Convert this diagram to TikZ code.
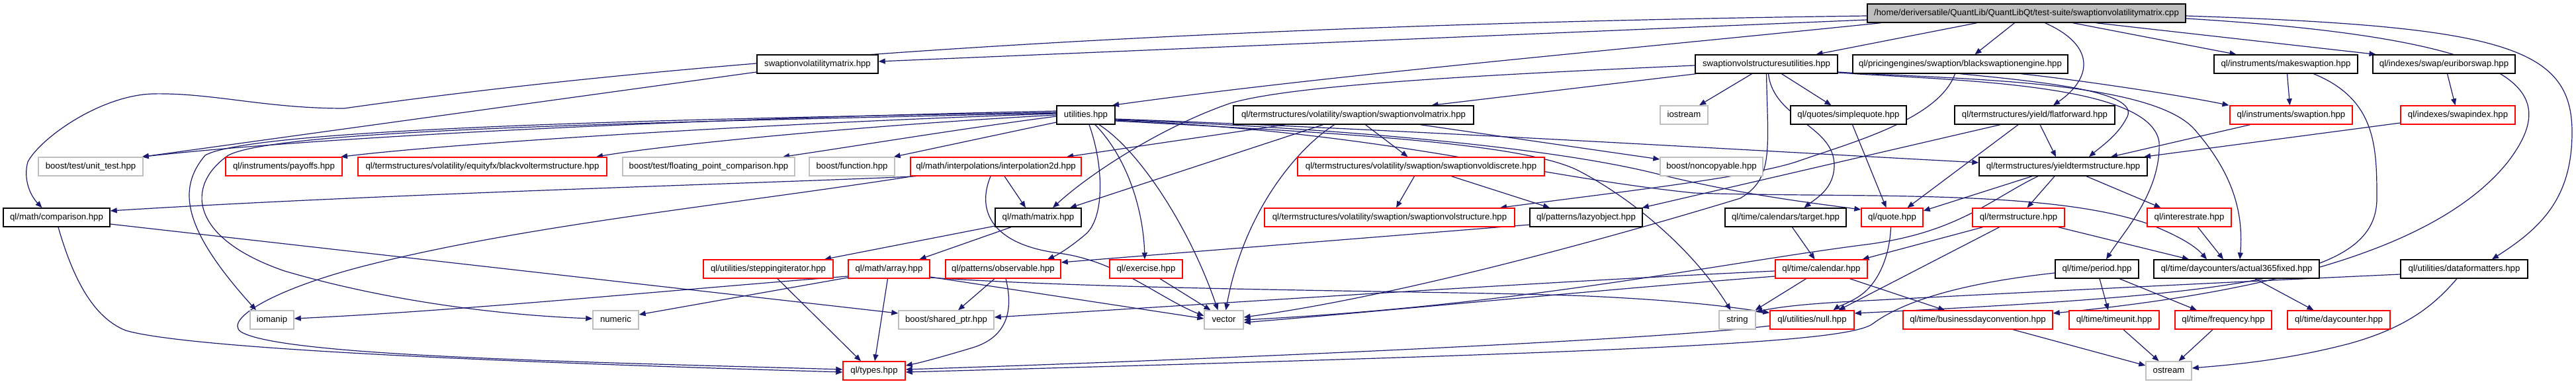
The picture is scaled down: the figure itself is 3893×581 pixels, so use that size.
\documentclass[tikz,border=0pt]{standalone}
\usepackage{fontspec}
\setmainfont{Liberation Sans}
\usetikzlibrary{arrows.meta,calc}
\definecolor{edgec}{HTML}{191970}
\definecolor{grayb}{HTML}{BFBFBF}
\definecolor{redb}{HTML}{FF0000}
\definecolor{rootf}{HTML}{BFBFBF}
\pgfdeclarelayer{bg}
\pgfsetlayers{bg,main}
\tikzset{
  nbase/.style={rectangle, minimum height=28pt, inner sep=0pt, line width=1.4pt, fill=white,
    font=\fontsize{13.2}{15.8}\selectfont, text height=9.6pt, text depth=2.9pt},
  bx/.style={nbase, draw=black},
  rx/.style={nbase, draw=redb},
  gx/.style={nbase, draw=grayb},
  rootx/.style={nbase, draw=black, fill=rootf},
  dep/.style={draw=edgec, line width=1.2pt, -{Triangle[length=10pt,width=8pt]}}
}
\begin{document}
\begin{tikzpicture}[x=1pt,y=-1pt]
\useasboundingbox (0,0) rectangle (3893,581);
\begin{pgfonlayer}{bg}\fill[white] (0,0) rectangle (3893,581);\end{pgfonlayer}
% row 0
\node[rootx, minimum width=481pt] (root) at (3062.5,20) {/home/deriversatile/QuantLib/QuantLibQt/test-suite/swaptionvolatilitymatrix.cpp};
% row 1
\node[bx, minimum width=183pt] (svm) at (1235.5,97) {swaptionvolatilitymatrix.hpp};
\node[bx, minimum width=215pt] (svsu) at (2669.5,97) {swaptionvolstructuresutilities.hpp};
\node[bx, minimum width=325pt] (bse) at (2962.5,97) {ql/pricingengines/swaption/blackswaptionengine.hpp};
\node[bx, minimum width=217pt] (mks) at (3454.5,97) {ql/instruments/makeswaption.hpp};
\node[bx, minimum width=215pt] (eur) at (3693.5,97) {ql/indexes/swap/euriborswap.hpp};
% row 2
\node[bx, minimum width=88pt] (util) at (1641,174) {utilities.hpp};
\node[bx, minimum width=363pt] (svmat) at (2045.5,174) {ql/termstructures/volatility/swaption/swaptionvolmatrix.hpp};
\node[gx, minimum width=72pt] (ios) at (2545,174) {iostream};
\node[bx, minimum width=175pt] (sq) at (2793.5,174) {ql/quotes/simplequote.hpp};
\node[bx, minimum width=242pt] (ff) at (3075,174) {ql/termstructures/yield/flatforward.hpp};
\node[rx, minimum width=185pt] (swpn) at (3462.5,174) {ql/instruments/swaption.hpp};
\node[rx, minimum width=173pt] (swi) at (3714.5,174) {ql/indexes/swapindex.hpp};
% row 3
\node[gx, minimum width=158pt] (ut) at (137,252) {boost/test/unit\_test.hpp};
\node[rx, minimum width=176pt] (pay) at (429,252) {ql/instruments/payoffs.hpp};
\node[rx, minimum width=376pt] (bvts) at (729,252) {ql/termstructures/volatility/equityfx/blackvoltermstructure.hpp};
\node[gx, minimum width=260pt] (fpc) at (1071,252) {boost/test/floating\_point\_comparison.hpp};
\node[gx, minimum width=129pt] (func) at (1287.5,252) {boost/function.hpp};
\node[rx, minimum width=258pt] (i2d) at (1505,252) {ql/math/interpolations/interpolation2d.hpp};
\node[rx, minimum width=373pt] (svd) at (2147.5,252) {ql/termstructures/volatility/swaption/swaptionvoldiscrete.hpp};
\node[gx, minimum width=155pt] (nc) at (2586.5,252) {boost/noncopyable.hpp};
\node[bx, minimum width=254pt] (yts) at (3118,252) {ql/termstructures/yieldtermstructure.hpp};
% row 4
\node[bx, minimum width=161pt] (cmp) at (85.5,329) {ql/math/comparison.hpp};
\node[bx, minimum width=130pt] (mat) at (1569,329) {ql/math/matrix.hpp};
\node[rx, minimum width=378pt] (svs) at (2100,329) {ql/termstructures/volatility/swaption/swaptionvolstructure.hpp};
\node[bx, minimum width=170pt] (lazy) at (2397,329) {ql/patterns/lazyobject.hpp};
\node[bx, minimum width=183pt] (tgt) at (2698.5,329) {ql/time/calendars/target.hpp};
\node[rx, minimum width=93pt] (quote) at (2859.5,329) {ql/quote.hpp};
\node[rx, minimum width=139pt] (ts) at (3050.5,329) {ql/termstructure.hpp};
\node[rx, minimum width=127pt] (ir) at (3308.5,329) {ql/interestrate.hpp};
% row 5
\node[rx, minimum width=196pt] (step) at (1161,407) {ql/utilities/steppingiterator.hpp};
\node[rx, minimum width=123pt] (arr) at (1343.5,407) {ql/math/array.hpp};
\node[rx, minimum width=174pt] (obs) at (1516,407) {ql/patterns/observable.hpp};
\node[rx, minimum width=110pt] (ex) at (1732,407) {ql/exercise.hpp};
\node[rx, minimum width=139pt] (cal) at (2752.5,407) {ql/time/calendar.hpp};
\node[bx, minimum width=126pt] (per) at (3169,407) {ql/time/period.hpp};
\node[bx, minimum width=250pt] (a365) at (3380,407) {ql/time/daycounters/actual365fixed.hpp};
\node[bx, minimum width=192pt] (df) at (3724,407) {ql/utilities/dataformatters.hpp};
% row 6
\node[gx, minimum width=66pt] (iom) at (411,484) {iomanip};
\node[gx, minimum width=69pt] (num) at (930.5,484) {numeric};
\node[gx, minimum width=144pt] (sp) at (1430,484) {boost/shared\_ptr.hpp};
\node[gx, minimum width=59pt] (vec) at (1849.5,484) {vector};
\node[gx, minimum width=55pt] (str) at (2625.5,484) {string};
\node[rx, minimum width=127pt] (null) at (2738.5,484) {ql/utilities/null.hpp};
\node[rx, minimum width=226pt] (bdc) at (2989,484) {ql/time/businessdayconvention.hpp};
\node[rx, minimum width=136pt] (tu) at (3195,484) {ql/time/timeunit.hpp};
\node[rx, minimum width=146pt] (freq) at (3360,484) {ql/time/frequency.hpp};
\node[rx, minimum width=155pt] (dc) at (3534.5,484) {ql/time/daycounter.hpp};
% row 7
\node[rx, minimum width=94pt] (types) at (1321,561) {ql/types.hpp};
\node[gx, minimum width=69pt] (ostr) at (3277.5,561) {ostream};

\begin{pgfonlayer}{bg}
% root
\draw[dep] ($(root.west)+(0,4)$) .. controls (1600,40) and (900,110) .. (520,164) .. controls (400,164) and (320,140) .. (230,142) .. controls (150,145) and (60,210) .. (42,245) .. controls (35,270) and (45,295) .. ($(cmp.north)+(-22,0)$);
\draw[dep] ($(root.west)+(0,10)$) -- ($(svm.east)+(0,-4)$);
\draw[dep] ($(root.south)+(-220,0)$) .. controls (2400,80) and (2000,115) .. ($(util.north)+(40,0)$);
\draw[dep] ($(root.south)+(-75,0)$) -- ($(svsu.north)+(75,0)$);
\draw[dep] ($(root.south)+(-18,0)$) -- ($(bse.north)+(22,0)$);
\draw[dep] ($(root.south)+(28,0)$) .. controls (3170,70) and (3160,120) .. ($(ff.north)+(28,0)$);
\draw[dep] ($(root.south)+(70,0)$) -- ($(mks.north)+(-75,0)$);
\draw[dep] ($(root.south)+(105,0)$) -- ($(eur.north)+(-103,0)$);
\draw[dep] ($(root.east)+(0,4)$) .. controls (3780,40) and (3887,70) .. (3887,200) .. controls (3887,300) and (3840,345) .. ($(df.north)+(42,0)$);
\draw[dep] ($(root.east)+(0,8)$) .. controls (3830,60) and (3870,140) .. (3790,245) .. controls (3690,370) and (3450,440) .. ($(bdc.east)+(0,-10)$);
% row 1 sources
\draw[dep] ($(mks.south)+(2,0)$) -- ($(swpn.north)+(-2,0)$);
\draw[dep] ($(mks.south)+(42,0)$) .. controls (3590,150) and (3592,220) .. (3592,300) .. controls (3592,420) and (3400,445) .. ($(null.east)+(0,-10)$);
\draw[dep] ($(eur.south)+(5,0)$) -- ($(swi.north)+(-4,0)$);
\draw[dep] ($(svm.west)+(0,12)$) -- ($(ut.north east)+(-2,0)$);
\draw[dep] ($(bse.south)+(92,0)$) .. controls (3150,122) and (3300,145) .. ($(swpn.north)+(-94,0)$);
\draw[dep] ($(bse.south)+(0,0)$) .. controls (3100,125) and (3240,140) .. (3213,180) .. controls (3200,205) and (3175,222) .. ($(yts.north)+(39,0)$);
\draw[dep] ($(bse.south)+(-8,0)$) .. controls (2930,180) and (2800,215) .. (2720,243) .. controls (2650,268) and (2450,290) .. ($(svs.north)+(167,0)$);
\draw[dep] ($(svsu.south)+(-22,0)$) -- ($(ios.north)+(23,0)$);
\draw[dep] ($(svsu.south)+(23,0)$) -- ($(sq.north)+(-26,0)$);
\draw[dep] ($(svsu.south)+(3,0)$) .. controls (2680,180) and (2772,190) .. (2772,250) .. controls (2772,285) and (2745,300) .. ($(tgt.north)+(28,0)$);
\draw[dep] ($(svsu.south)+(0,0)$) .. controls (2672,230) and (2680,270) .. (2630,300) .. controls (2400,370) and (2100,450) .. ($(vec.east)+(0,-4)$);
\draw[dep] ($(svsu.south west)+(2,0)$) -- ($(svmat.north)+(118,0)$);
\draw[dep] ($(svsu.west)+(0,2)$) .. controls (2200,115) and (1950,130) .. (1860,156) .. controls (1760,190) and (1650,260) .. ($(mat.north)+(22,0)$);
\draw[dep] ($(svsu.east)+(0,12)$) .. controls (2950,120) and (3260,120) .. (3320,200) .. controls (3380,270) and (3390,330) .. ($(a365.north)+(5,0)$);
\draw[dep] ($(svsu.east)+(0,13)$) .. controls (2950,122) and (3250,125) .. (3263,215) .. controls (3266,290) and (3210,350) .. ($(per.north)+(14,0)$);
% row 2 sources
\draw[dep] ($(util.west)+(0,-6)$) .. controls (1100,178) and (500,205) .. ($(ut.north east)+(-2,0)$);
\draw[dep] ($(util.west)+(0,-2)$) .. controls (1200,185) and (700,215) .. ($(pay.north)+(86,0)$);
\draw[dep] ($(util.west)+(0,0)$) .. controls (1300,190) and (1000,220) .. ($(bvts.north)+(172,0)$);
\draw[dep] ($(util.west)+(0,2)$) .. controls (1450,195) and (1300,220) .. ($(fpc.north)+(112,0)$);
\draw[dep] ($(util.west)+(0,11)$) -- ($(func.north east)+(-2,0)$);
\draw[dep] ($(util.west)+(0,-4)$) .. controls (1000,180) and (380,195) .. (310,235) .. controls (268,285) and (275,345) .. ($(iom.north)+(-24,0)$);
\draw[dep] ($(util.west)+(0,-3)$) .. controls (1000,185) and (420,195) .. (345,235) .. controls (280,280) and (285,360) .. (430,410) .. controls (600,460) and (780,478) .. ($(num.west)+(0,-2)$);
\draw[dep] ($(util.south)+(5,0)$) .. controls (1668,250) and (1670,330) .. (1640,355) .. controls (1620,372) and (1600,385) .. ($(obs.north)+(67,0)$);
\draw[dep] ($(util.south)+(14,0)$) .. controls (1705,240) and (1728,320) .. ($(ex.north)+(-2,0)$);
\draw[dep] ($(util.south)+(20,0)$) .. controls (1725,230) and (1800,350) .. ($(vec.north)+(-9,0)$);
\draw[dep] ($(util.east)+(0,6)$) .. controls (2100,195) and (2600,225) .. ($(yts.west)+(0,-6)$);
\draw[dep] ($(util.east)+(0,7)$) .. controls (2050,195) and (2350,225) .. (2500,262) .. controls (2620,292) and (2720,305) .. ($(quote.west)+(0,-12)$);
\draw[dep] ($(util.east)+(0,8)$) .. controls (2100,200) and (2300,265) .. (2560,292) .. controls (2800,300) and (3100,285) .. (3250,340) .. controls (3300,360) and (3320,375) .. ($(a365.north)+(-45,0)$);
\draw[dep] ($(util.east)+(0,9)$) .. controls (2000,200) and (2300,215) .. (2385,258) .. controls (2470,302) and (2560,380) .. ($(str.north)+(-10,0)$);
\draw[dep] ($(svmat.south)+(-103,0)$) -- ($(i2d.north)+(107,0)$);
\draw[dep] ($(svmat.south)+(-46,0)$) -- ($(mat.north)+(48,0)$);
\draw[dep] ($(svmat.south)+(-29,0)$) .. controls (1960,225) and (1880,320) .. ($(vec.north)+(3,0)$);
\draw[dep] ($(svmat.south)+(18,0)$) -- ($(svd.north)+(-20,0)$);
\draw[dep] ($(svmat.south)+(101,0)$) -- ($(nc.west)+(0,-11)$);
\draw[dep] ($(sq.south)+(6,0)$) -- ($(quote.north)+(-9,0)$);
\draw[dep] ($(ff.south)+(8,0)$) -- ($(yts.north)+(-11,0)$);
\draw[dep] ($(ff.south)+(-25,0)$) -- ($(quote.north)+(23,0)$);
\draw[dep] ($(ff.south)+(-52,0)$) -- ($(lazy.north east)+(-1,0)$);
\draw[dep] ($(swi.west)+(0,12)$) -- ($(yts.north)+(122,0)$);
\draw[dep] ($(swpn.south)+(-62,0)$) -- ($(yts.north)+(72,0)$);
% row 3 sources
\draw[dep] ($(svd.south)+(-10,0)$) -- ($(svs.north)+(10,0)$);
\draw[dep] ($(svd.south)+(46,0)$) -- ($(lazy.north)+(-55,0)$);
\draw[dep] ($(i2d.south)+(13,0)$) -- ($(mat.north)+(-19,0)$);
\draw[dep] ($(i2d.south)+(-8,0)$) .. controls (1475,320) and (1500,370) .. (1600,383) .. controls (1690,395) and (1750,450) .. ($(vec.west)+(0,-6)$);
\draw[dep] ($(i2d.south west)+(9,0)$) .. controls (1200,276) and (600,292) .. ($(cmp.east)+(0,-10)$);
\draw[dep] ($(i2d.south west)+(4,0)$) .. controls (1100,310) and (800,340) .. (560,400) .. controls (400,440) and (330,490) .. (370,505) .. controls (450,540) and (900,548) .. ($(types.west)+(0,-2)$);
\draw[dep] ($(yts.south)+(-13,0)$) -- ($(ts.north)+(13,0)$);
\draw[dep] ($(yts.south)+(35,0)$) -- ($(ir.north)+(-43,0)$);
\draw[dep] ($(yts.south)+(-47,0)$) -- ($(quote.east)+(0,-10)$);
\draw[dep] ($(yts.south)+(-38,0)$) .. controls (3010,300) and (2960,352) .. (2820,370) .. controls (2600,398) and (2300,462) .. ($(vec.east)+(0,0)$);
% row 4 sources
\draw[dep] ($(cmp.south)+(2.5,0)$) .. controls (110,420) and (140,480) .. (190,500) .. controls (300,532) and (900,552) .. ($(types.west)+(0,2)$);
\draw[dep] ($(cmp.east)+(0,10)$) -- ($(sp.west)+(0,-10)$);
\draw[dep] ($(mat.west)+(0,13)$) -- ($(step.north)+(85,0)$);
\draw[dep] ($(mat.south)+(-41,0)$) -- ($(arr.north)+(46,0)$);
\draw[dep] ($(lazy.west)+(0,11)$) -- ($(obs.east)+(0,-10)$);
\draw[dep] ($(tgt.south)+(10,0)$) -- ($(cal.north)+(-10,0)$);
\draw[dep] ($(quote.south)+(-2,0)$) .. controls (2856,385) and (2840,428) .. (2810,448) .. controls (2795,458) and (2778,464) .. ($(null.north)+(32,0)$);
\draw[dep] ($(ts.south)+(-54,0)$) -- ($(cal.north)+(62,0)$);
\draw[dep] ($(ts.south)+(-29,0)$) -- ($(null.north)+(40,0)$);
\draw[dep] ($(ts.south)+(60,0)$) -- ($(a365.north)+(-72,0)$);
\draw[dep] ($(ir.south)+(13,0)$) -- ($(a365.north)+(-20,0)$);
% row 5 sources
\draw[dep] ($(step.south)+(14,0)$) -- ($(types.north)+(-20,0)$);
\draw[dep] ($(arr.south)+(-2,0)$) -- ($(types.north)+(1,0)$);
\draw[dep] ($(arr.east)+(0,12)$) -- ($(vec.west)+(0,-2)$);
\draw[dep] ($(arr.east)+(0,13)$) .. controls (1700,440) and (2200,440) .. (2400,448) .. controls (2550,455) and (2620,465) .. ($(null.north west)+(0,4)$);
\draw[dep] ($(arr.west)+(0,13)$) -- ($(num.east)+(0,-8)$);
\draw[dep] ($(arr.west)+(0,11)$) .. controls (1000,440) and (700,470) .. ($(iom.east)+(0,-2)$);
\draw[dep] ($(obs.south)+(-13,0)$) -- ($(sp.north)+(18,0)$);
\draw[dep] ($(obs.south)+(4,0)$) .. controls (1532,470) and (1522,510) .. (1470,526) .. controls (1420,541) and (1390,549) .. ($(types.east)+(0,-8)$);
\draw[dep] ($(ex.south)+(21,0)$) -- ($(vec.north)+(-20,0)$);
\draw[dep] ($(cal.south)+(-23,0)$) -- ($(str.north east)+(-1,0)$);
\draw[dep] ($(cal.south)+(43,0)$) -- ($(bdc.north)+(-50,0)$);
\draw[dep] ($(cal.west)+(0,3)$) .. controls (2300,428) and (1800,462) .. ($(sp.east)+(0,-4)$);
\draw[dep] ($(cal.west)+(0,11)$) .. controls (2400,440) and (2100,470) .. ($(vec.east)+(0,4)$);
\draw[dep] ($(per.west)+(0,6)$) .. controls (2950,430) and (2870,460) .. (2830,490) .. controls (2790,518) and (2500,532) .. ($(types.east)+(0,2)$);
\draw[dep] ($(per.south)+(4,0)$) -- ($(tu.north)+(-9,0)$);
\draw[dep] ($(per.south)+(34,0)$) -- ($(freq.north)+(-40,0)$);
\draw[dep] ($(a365.south)+(28,0)$) -- ($(dc.north)+(-38,0)$);
\draw[dep] ($(df.south)+(-11,0)$) .. controls (3680,460) and (3640,495) .. (3550,520) .. controls (3450,546) and (3370,552) .. ($(ostr.east)+(0,-4)$);
\draw[dep] ($(df.west)+(0,8)$) .. controls (3300,430) and (2950,448) .. (2800,456) .. controls (2720,460) and (2680,466) .. ($(str.east)+(0,-12)$);
% row 6 sources
\draw[dep] ($(null.west)+(0,9)$) .. controls (2500,515) and (1800,545) .. ($(types.east)+(0,-2)$);
\draw[dep] ($(bdc.south)+(53,0)$) -- ($(ostr.west)+(0,-8)$);
\draw[dep] ($(tu.south)+(14,0)$) -- ($(ostr.north)+(-15,0)$);
\draw[dep] ($(freq.south)+(-16,0)$) -- ($(ostr.north)+(15,0)$);
\end{pgfonlayer}
\end{tikzpicture}
\end{document}
